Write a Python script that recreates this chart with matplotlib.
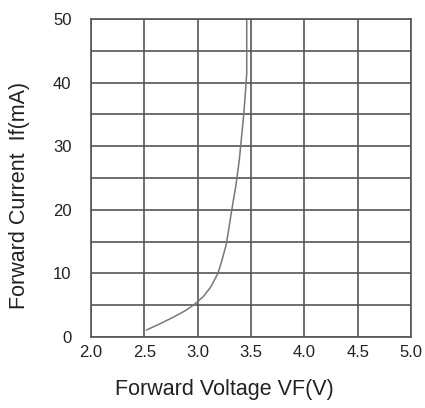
import matplotlib
matplotlib.use("Agg")
import matplotlib.pyplot as plt

voltage = [2.52, 2.65, 2.77, 2.88, 2.96, 3.05, 3.12, 3.19, 3.23, 3.27, 3.32, 3.36, 3.39, 3.43, 3.45, 3.46, 3.46]
current = [1.1, 2.1, 3.1, 4.1, 5.0, 6.3, 7.8, 10.0, 12.2, 14.7, 20.0, 24.0, 27.8, 34.6, 39.0, 41.5, 50.0]

x_ticks = [2.0, 2.5, 3.0, 3.5, 4.0, 4.5, 5.0]
x_tick_labels = ["2.0", "2.5", "3.0", "3.5", "4.0", "4.5", "5.0"]
y_ticks = [0, 10, 20, 30, 40, 50]
y_grid = [0, 5, 10, 15, 20, 25, 30, 35, 40, 45, 50]

plt.rcParams['font.family'] = ['Liberation Sans', 'DejaVu Sans']

fig = plt.figure(figsize=(4.25, 4.08), dpi=100)
ax = fig.add_axes([91/425, 1 - 337/408, 320/425, 318/408])

ax.set_xlim(2.0, 5.0)
ax.set_ylim(0, 50)

for v in x_ticks:
    ax.axvline(v, color='#555555', lw=1.2, zorder=1)
for c in y_grid:
    ax.axhline(c, color='#555555', lw=1.2, zorder=1)

ax.plot(voltage, current, color='#777777', lw=1.1, zorder=2)

ax.set_xticks(x_ticks)
ax.set_xticklabels(x_tick_labels)
ax.set_yticks(y_ticks)
ax.tick_params(length=0, labelsize=12, colors='#222222')
ax.tick_params(axis='x', pad=6)
ax.tick_params(axis='y', pad=14)
for s in ax.spines.values():
    s.set_color('#555555')
    s.set_linewidth(1.2)

ax.set_xlabel("Forward Voltage VF(V)", fontsize=15.5, color='#222222')
ax.set_ylabel("Forward Current  If(mA)", fontsize=15.5, color='#222222')
ax.xaxis.set_label_coords((224 - 91) / 320, -(390 - 337) / 318)
ax.yaxis.set_label_coords(-(91 - 20) / 320, (337 - 195) / 318)
ax.xaxis.label.set_va('center')
ax.yaxis.label.set_va('center')

fig.savefig("out.png", dpi=100)
